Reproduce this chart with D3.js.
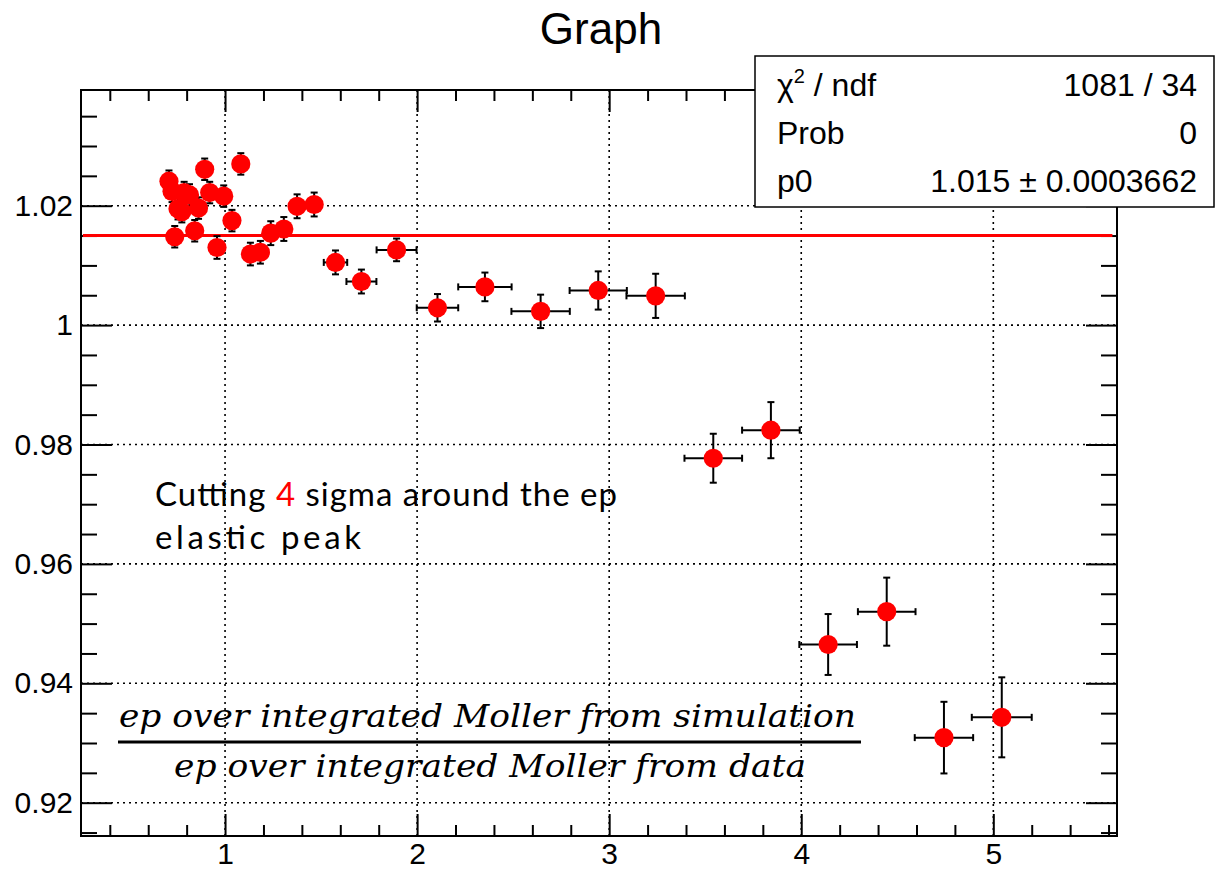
<!DOCTYPE html>
<html>
<head>
<meta charset="utf-8">
<script src="https://cdn.jsdelivr.net/npm/d3@7"></script>
<style>
  html, body { margin: 0; padding: 0; background: #fff; }
  svg { display: block; }
</style>
</head>
<body>
<svg id="chart" width="1230" height="870"></svg>
<script>
// ---- data ----
const xValues = [0.708,0.724,0.738,0.755,0.775,0.787,0.815,0.842,0.862,0.894,0.920,0.958,0.993,1.036,1.082,1.132,1.184,1.238,1.306,1.375,1.464,1.575,1.710,1.893,2.106,2.353,2.643,2.943,3.242,3.542,3.842,4.140,4.445,4.743,5.044];
const yValues = [1.0241,1.0224,1.0148,1.0195,1.0190,1.0222,1.0218,1.0158,1.0196,1.0261,1.0222,1.0130,1.0216,1.0175,1.0270,1.0119,1.0122,1.0154,1.0161,1.0199,1.0202,1.0105,1.0073,1.0126,1.0029,1.0064,1.0023,1.0058,1.0049,0.9777,0.9824,0.9465,0.9520,0.9309,0.9343];
const xErrors = [0.010,0.010,0.010,0.010,0.010,0.010,0.015,0.015,0.015,0.015,0.020,0.020,0.020,0.025,0.025,0.025,0.030,0.030,0.035,0.040,0.045,0.061,0.078,0.104,0.108,0.139,0.152,0.149,0.152,0.150,0.150,0.150,0.150,0.152,0.156];
const yErrors = [0.0018,0.0018,0.0018,0.0018,0.0018,0.0018,0.0018,0.0018,0.0018,0.0018,0.0018,0.0019,0.0018,0.0018,0.0018,0.0019,0.0019,0.0020,0.0020,0.0020,0.0020,0.0020,0.0020,0.0019,0.0023,0.0024,0.0028,0.0032,0.0037,0.0041,0.0047,0.0051,0.0057,0.0060,0.0067];
const fitValue = 1.015;
const fitRange = [0.26, 5.62];
const xMajorTicks = [1, 2, 3, 4, 5];
const yMajorTicks = [0.92, 0.94, 0.96, 0.98, 1.00, 1.02];
const yTickLabels = ["0.92", "0.94", "0.96", "0.98", "1", "1.02"];
const statsLabels = ["χ2 / ndf", "Prob", "p0"];
const statsValues = ["1081 / 34", "0", "1.015 ± 0.0003662"];
const titleText = "Graph";
const noteLine1 = ["Cutting ", "4", " sigma around the ep"];
const noteLine2 = "elastic peak";
const numeratorText = "ep over integrated Moller from simulation";
const denominatorText = "ep over integrated Moller from data";

// ---- layout ----
const svg = d3.select("#chart");
const L = 81, R = 1117, T = 90, B = 836;
const x = d3.scaleLinear().domain([0.25, 5.644]).range([L, R]);
const y = d3.scaleLinear().domain([0.914422, 1.03938]).range([B, T]);
const FONT = "'Liberation Sans', Arial, Helvetica, sans-serif";

const xMinor = d3.range(0.4, 5.64, 0.2).map(v => +v.toFixed(2)).filter(v => xMajorTicks.indexOf(v) < 0);
const yMinor = d3.range(0.915, 1.0394, 0.005).map(v => +v.toFixed(3)).filter(v => !yMajorTicks.some(m => Math.abs(m - v) < 1e-6));

// grid
const grid = svg.append("g").attr("stroke", "#000").attr("stroke-width", 1.6).attr("stroke-dasharray", "2,4");
grid.selectAll("line.gx").data(xMajorTicks).join("line")
  .attr("x1", d => x(d)).attr("x2", d => x(d)).attr("y1", B).attr("y2", T);
grid.selectAll("line.gy").data(yMajorTicks).join("line")
  .attr("x1", L).attr("x2", R).attr("y1", d => y(d)).attr("y2", d => y(d));

// axes via d3 (ticks pointing inward)
function styleAxis(g) {
  g.select(".domain").remove();
  g.selectAll(".tick line").attr("stroke", "#000").attr("stroke-width", 2);
  g.selectAll(".tick text").attr("fill", "#000").attr("font-family", FONT).attr("font-size", 30);
}
svg.append("g").attr("transform", `translate(0,${B})`)
  .call(d3.axisBottom(x).tickValues(xMajorTicks).tickSize(-22).tickPadding(7).tickFormat(d3.format("d")))
  .call(styleAxis);
svg.append("g").attr("transform", `translate(0,${B})`)
  .call(d3.axisBottom(x).tickValues(xMinor).tickSize(-11).tickFormat(""))
  .call(styleAxis);
svg.append("g").attr("transform", `translate(0,${T})`)
  .call(d3.axisTop(x).tickValues(xMajorTicks).tickSize(-22).tickFormat(""))
  .call(styleAxis);
svg.append("g").attr("transform", `translate(0,${T})`)
  .call(d3.axisTop(x).tickValues(xMinor).tickSize(-11).tickFormat(""))
  .call(styleAxis);
svg.append("g").attr("transform", `translate(${L},0)`)
  .call(d3.axisLeft(y).tickValues(yMajorTicks).tickSize(-31).tickPadding(8).tickFormat((d, i) => yTickLabels[i]))
  .call(styleAxis);
svg.append("g").attr("transform", `translate(${L},0)`)
  .call(d3.axisLeft(y).tickValues(yMinor).tickSize(-16).tickFormat(""))
  .call(styleAxis);
svg.append("g").attr("transform", `translate(${R},0)`)
  .call(d3.axisRight(y).tickValues(yMajorTicks).tickSize(-31).tickFormat(""))
  .call(styleAxis);
svg.append("g").attr("transform", `translate(${R},0)`)
  .call(d3.axisRight(y).tickValues(yMinor).tickSize(-16).tickFormat(""))
  .call(styleAxis);

// frame
svg.append("rect").attr("x", L).attr("y", T).attr("width", R - L).attr("height", B - T)
  .attr("fill", "none").attr("stroke", "#000").attr("stroke-width", 2);

// fit line
svg.append("line")
  .attr("x1", x(fitRange[0])).attr("x2", x(fitRange[1]))
  .attr("y1", y(fitValue)).attr("y2", y(fitValue))
  .attr("stroke", "#ff0000").attr("stroke-width", 3);

// annotation text
const note = svg.append("g").attr("font-family", "Lato, 'Open Sans', sans-serif").attr("font-size", 33).attr("fill", "#000");
const n1 = note.append("text").attr("x", 155).attr("y", 506).attr("textLength", 462).attr("lengthAdjust", "spacing");
n1.selectAll("tspan").data(noteLine1).join("tspan")
  .attr("fill", (d, i) => i === 1 ? "#ff0000" : "#000").text(d => d);
note.append("text").attr("x", 155).attr("y", 549).attr("textLength", 206).attr("lengthAdjust", "spacing").text(noteLine2);

// fraction
const frac = svg.append("g").attr("font-family", "'DejaVu Serif', 'Liberation Serif', serif").attr("font-style", "italic").attr("font-size", 31).attr("fill", "#000");
frac.append("text").attr("x", 119).attr("y", 727).attr("textLength", 737).attr("lengthAdjust", "spacingAndGlyphs").text(numeratorText);
frac.append("text").attr("x", 174).attr("y", 777).attr("textLength", 632).attr("lengthAdjust", "spacingAndGlyphs").text(denominatorText);
svg.append("line").attr("x1", 118).attr("x2", 861).attr("y1", 742).attr("y2", 742).attr("stroke", "#000").attr("stroke-width", 3);

// data points
const pts = xValues.map((v, i) => ({ x: v, y: yValues[i], ex: xErrors[i], ey: yErrors[i] }));
const CAP = 3.5;
const eb = svg.append("g").attr("stroke", "#000").attr("stroke-width", 2);
pts.forEach(p => {
  const cx = x(p.x), cy = y(p.y);
  const x0 = x(p.x - p.ex), x1 = x(p.x + p.ex), y0 = y(p.y - p.ey), y1 = y(p.y + p.ey);
  eb.append("line").attr("x1", x0).attr("x2", x1).attr("y1", cy).attr("y2", cy);
  eb.append("line").attr("x1", cx).attr("x2", cx).attr("y1", y0).attr("y2", y1);
  if (x1 - cx > 10) {
    eb.append("line").attr("x1", x0).attr("x2", x0).attr("y1", cy - CAP).attr("y2", cy + CAP);
    eb.append("line").attr("x1", x1).attr("x2", x1).attr("y1", cy - CAP).attr("y2", cy + CAP);
  }
  eb.append("line").attr("x1", cx - CAP).attr("x2", cx + CAP).attr("y1", y0).attr("y2", y0);
  eb.append("line").attr("x1", cx - CAP).attr("x2", cx + CAP).attr("y1", y1).attr("y2", y1);
});
svg.append("g").selectAll("circle").data(pts).join("circle")
  .attr("cx", d => x(d.x)).attr("cy", d => y(d.y)).attr("r", 9.6).attr("fill", "#ff0000");

// title
svg.append("text").attr("x", 601).attr("y", 44).attr("text-anchor", "middle")
  .attr("font-family", FONT).attr("font-size", 44).attr("fill", "#000").text(titleText);

// stats box
const sb = svg.append("g");
sb.append("rect").attr("x", 755).attr("y", 56).attr("width", 459).attr("height", 151)
  .attr("fill", "#fff").attr("stroke", "#000").attr("stroke-width", 1.5);
const rowsY = [96, 144, 192];
statsLabels.forEach((lab, i) => {
  const t = sb.append("text").attr("x", 777).attr("y", rowsY[i]).attr("font-family", FONT).attr("font-size", 32).attr("fill", "#000");
  if (i === 0) {
    t.append("tspan").text("χ");
    t.append("tspan").attr("font-size", 20).attr("dy", -13).text("2");
    t.append("tspan").attr("dy", 13).text(" / ndf");
  } else {
    t.text(lab);
  }
  sb.append("text").attr("x", 1197).attr("y", rowsY[i]).attr("text-anchor", "end")
    .attr("font-family", FONT).attr("font-size", 32).attr("fill", "#000").text(statsValues[i]);
});
</script>
</body>
</html>
